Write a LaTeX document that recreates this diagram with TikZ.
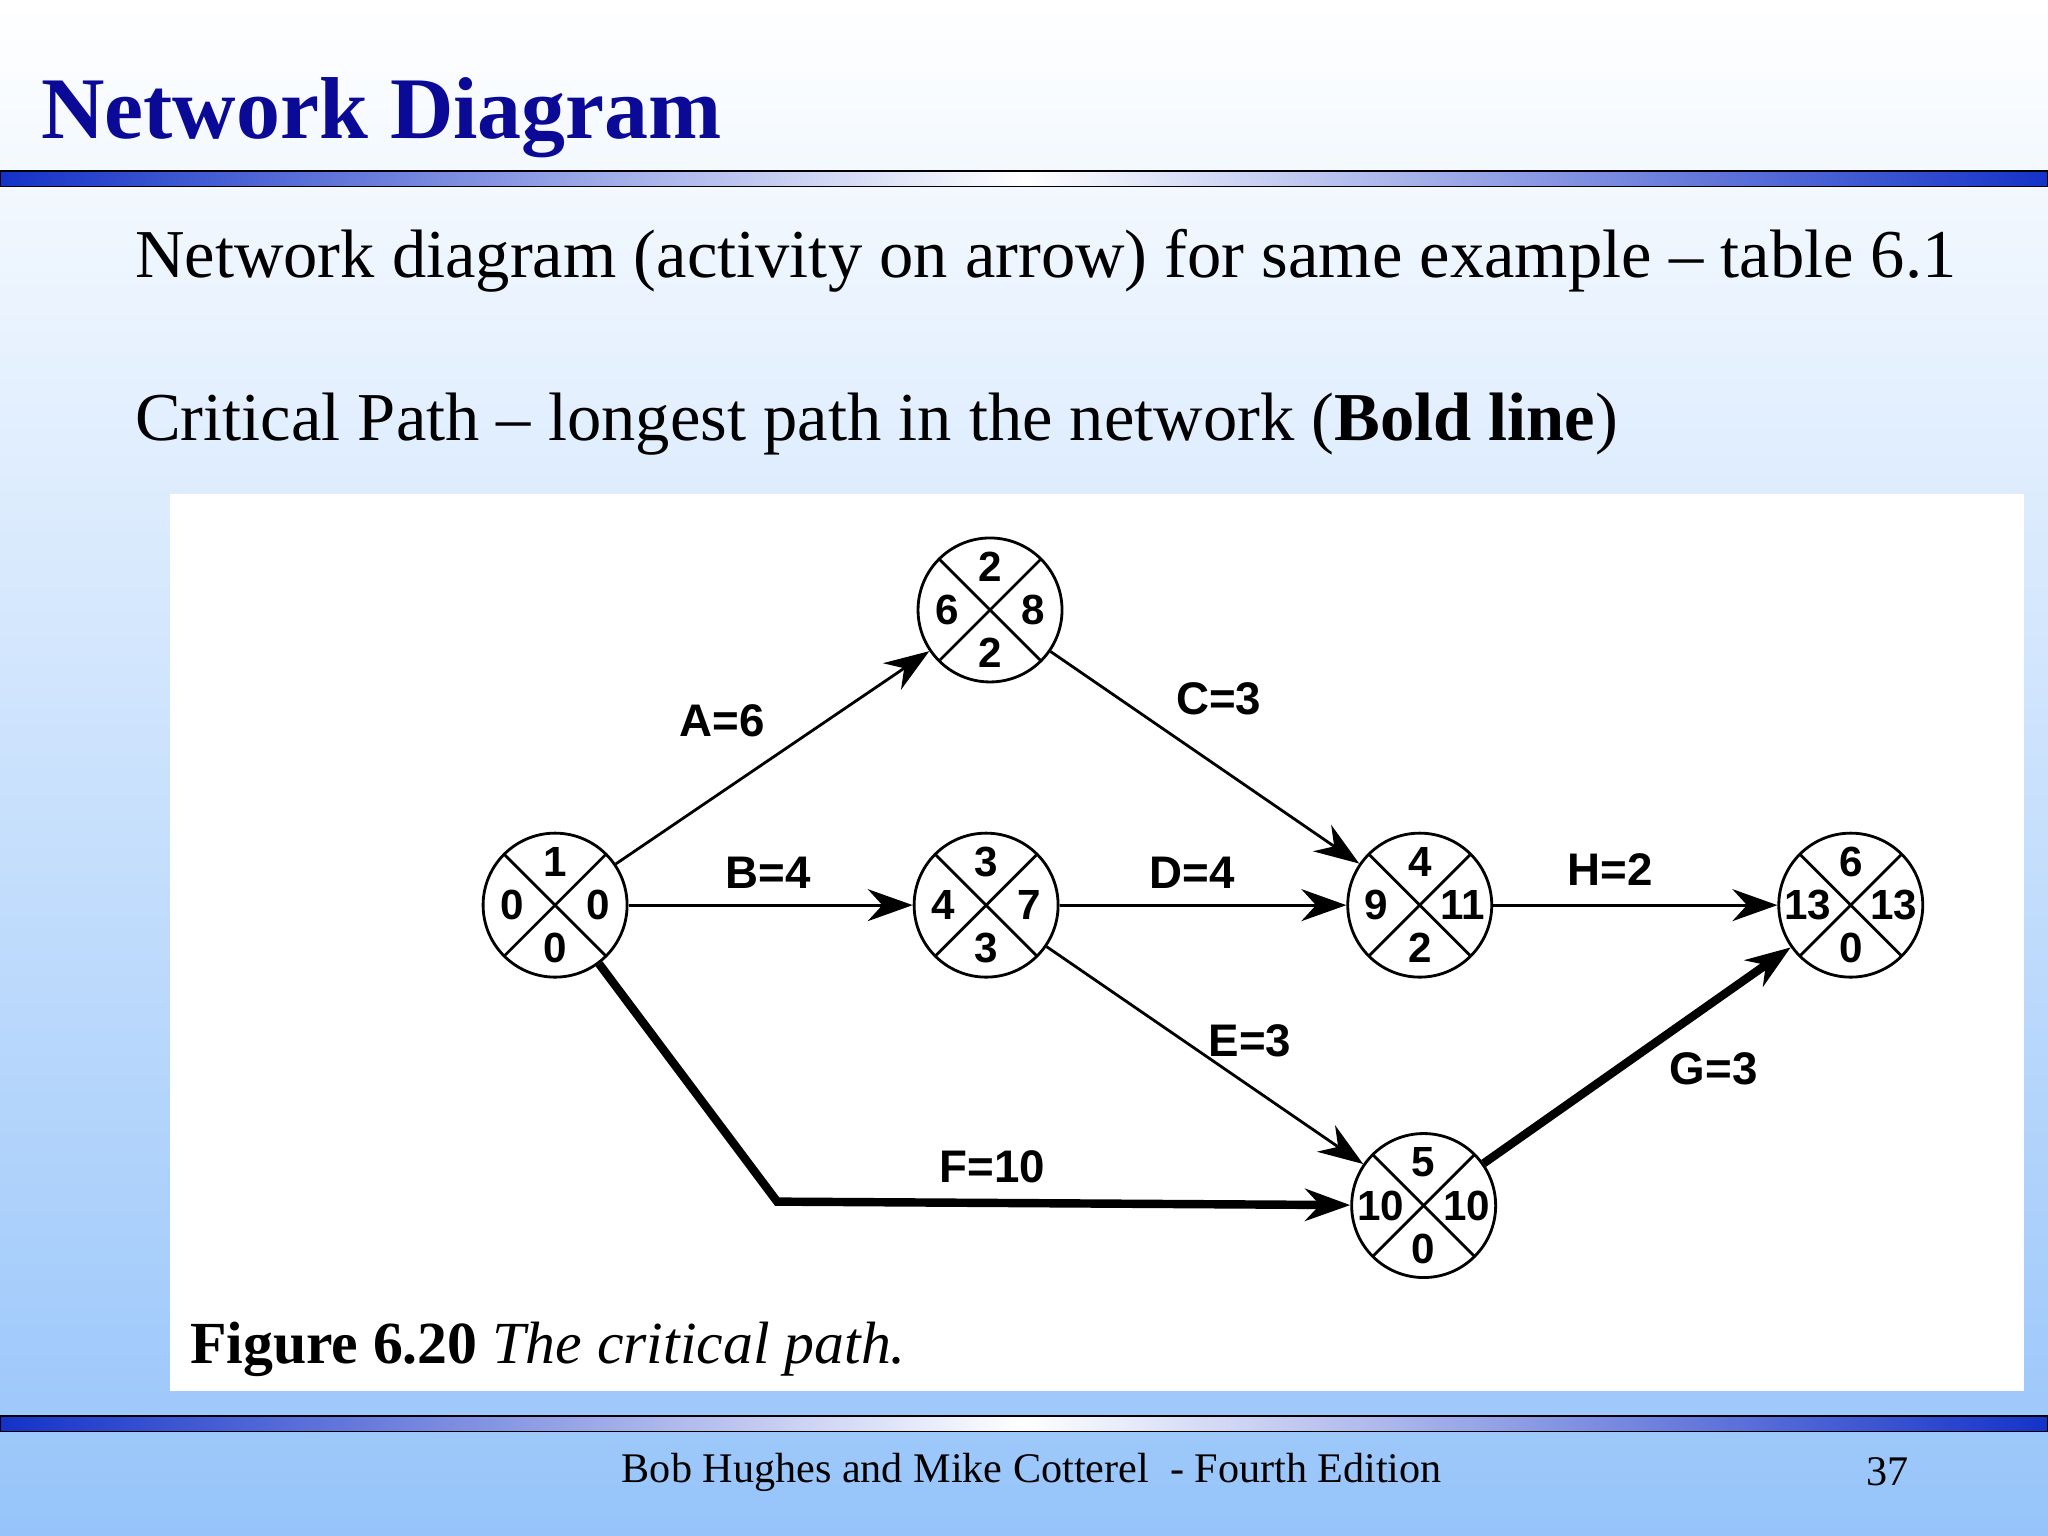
\documentclass[tikz,border=0pt]{standalone}
\usepackage{fontspec}
\setmainfont{Liberation Serif}
\setsansfont{Liberation Sans}
\usetikzlibrary{arrows.meta}
\definecolor{titleblue}{RGB}{10,10,150}
\definecolor{barblue}{RGB}{20,50,200}
\definecolor{bgblue}{RGB}{150,196,250}
\tikzset{
    event/.style={circle, draw, thick, minimum size=1.44cm, inner sep=0pt, path picture={
        \draw[thick] (path picture bounding box.south west) -- (path picture bounding box.north east);
        \draw[thick] (path picture bounding box.north west) -- (path picture bounding box.south east);
    }},
    num/.style={font=\sffamily\bfseries\fontsize{12}{12}\selectfont, inner sep=0pt},
    act/.style={thick, -{Stealth[length=4.5mm,width=3.2mm]}},
    crit/.style={line width=2.4pt, -{Stealth[length=4.5mm,width=3.2mm]}},
    act label/.style={font=\sffamily\bfseries\fontsize{13}{13}\selectfont}
}
% event node: name, position, top, left, right, bottom
\newcommand{\evt}[6]{
    \node (#1) [event] at #2 {};
    \node[num] at ($(#1)+(0,-33)$) {#3};
    \node[num] at ($(#1)+(-33,0)$) {#4};
    \node[num] at ($(#1)+(33,0)$) {#5};
    \node[num] at ($(#1)+(0,33)$) {#6};
}
\usetikzlibrary{calc}
\begin{document}
\begin{tikzpicture}[x=0.01306cm, y=-0.01306cm]
    \useasboundingbox (0,0) rectangle (1568,1176);
    % --- Background and bars ---
    \shade[top color=white, bottom color=bgblue] (0,0) rectangle (1568,1176);
    \shade[left color=barblue, right color=white] (0,131) rectangle (784,143);
    \shade[left color=white, right color=barblue] (784,131) rectangle (1568,143);
    \draw (0,131) rectangle (1568,143);
    \shade[left color=barblue, right color=white] (0,1084) rectangle (784,1096);
    \shade[left color=white, right color=barblue] (784,1084) rectangle (1568,1096);
    \draw (0,1084) rectangle (1568,1096);
    \fill[white] (130,378) rectangle (1550,1065);

    % --- Texts ---
    \node (title) [anchor=west, text=titleblue, font=\bfseries\fontsize{25}{25}\selectfont] at (22,90) {Network Diagram};
    \node (line1) [anchor=west, font=\fontsize{19.5}{20}\selectfont] at (94,200) {Network diagram (activity on arrow) for same example -- table 6.1};
    \node (line2) [anchor=west, font=\fontsize{19.5}{20}\selectfont] at (94,325) {Critical Path -- longest path in the network (\textbf{Bold line})};
    \node (footer) [font=\fontsize{12}{12}\selectfont] at (790,1127) {Bob Hughes and Mike Cotterel\ \ - Fourth Edition};
    \node (page) [font=\fontsize{12}{12}\selectfont] at (1445,1127) {37};
    \node (caption) [anchor=west, font=\fontsize{17}{17}\selectfont] at (136,1033) {\textbf{Figure 6.20} \textit{The critical path.}};

    % --- Events ---
    \evt{e1}{(425,693)}{1}{0}{0}{0}
    \evt{e2}{(758,467)}{2}{6}{8}{2}
    \evt{e3}{(755,693)}{3}{4}{7}{3}
    \evt{e4}{(1087,693)}{4}{9}{11}{2}
    \evt{e5}{(1090,923)}{5}{10}{10}{0}
    \evt{e6}{(1417,693)}{6}{13}{13}{0}
    \coordinate (bend) at (595,920);

    % --- Activities ---
    \draw[act] (e1) -- (e2);
    \node[act label] at (553,552) {A=6};
    \draw[act] (e1) -- (e3);
    \node[act label] at (588,668) {B=4};
    \draw[act] (e2) -- (e4);
    \node[act label] at (933,535) {C=3};
    \draw[act] (e3) -- (e4);
    \node[act label] at (913,668) {D=4};
    \draw[act] (e3) -- (e5);
    \node[act label] at (957,797) {E=3};
    \draw[crit] (e1) -- (bend) -- (e5);
    \node[act label] at (760,893) {F=10};
    \draw[crit] (e5) -- (e6);
    \node[act label] at (1312,818) {G=3};
    \draw[act] (e4) -- (e6);
    \node[act label] at (1233,666) {H=2};
\end{tikzpicture}
\end{document}
